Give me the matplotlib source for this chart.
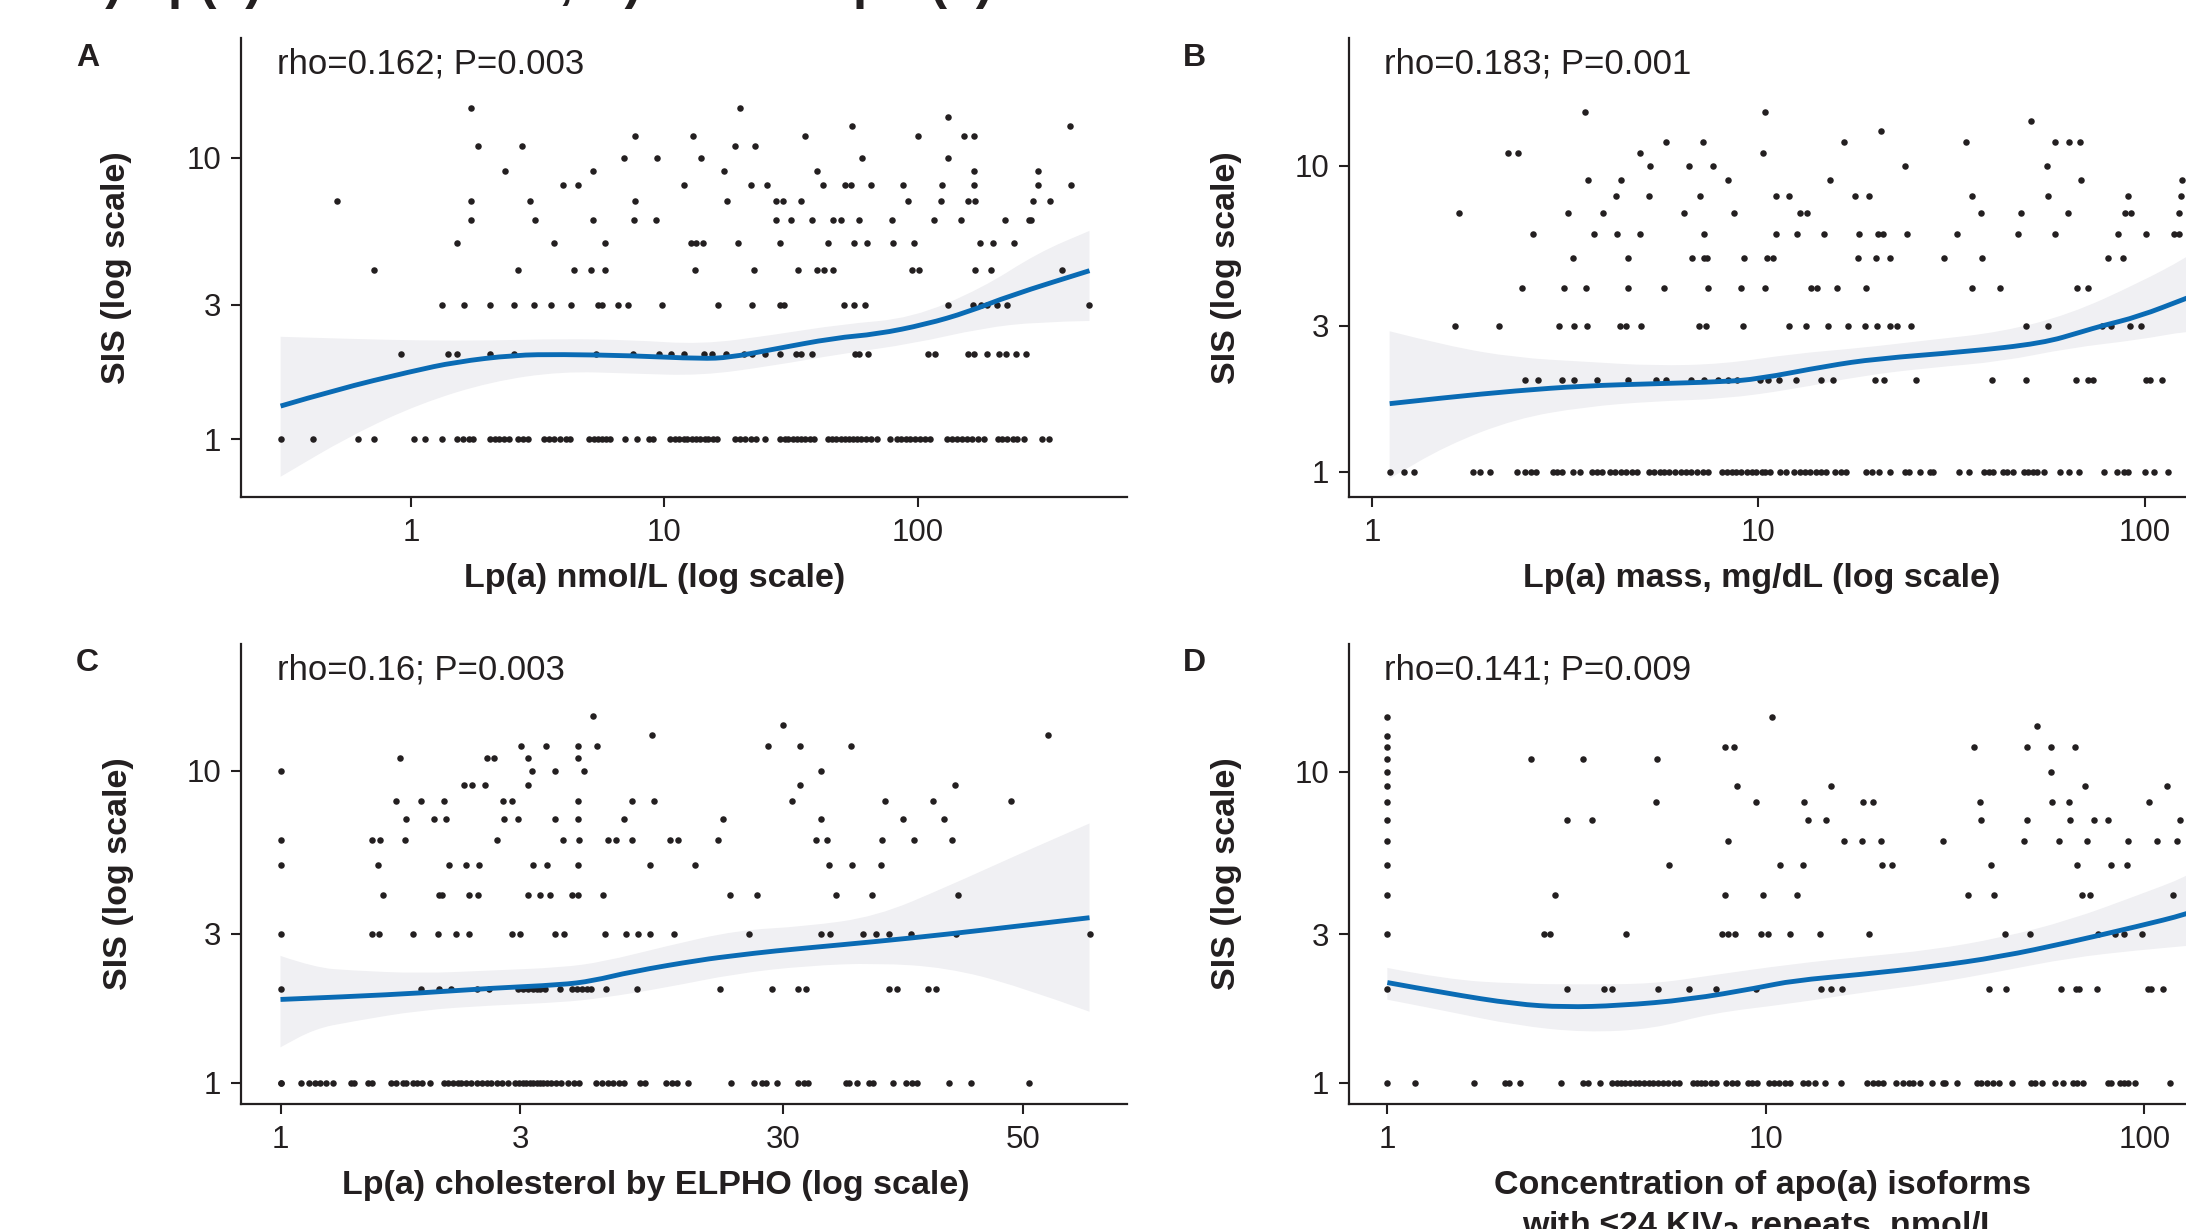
import matplotlib.pyplot as plt
from matplotlib.path import Path
from matplotlib.patches import PathPatch
from matplotlib.ticker import NullLocator

plt.rcParams['font.family'] = ['Liberation Sans', 'DejaVu Sans']

# ---- panel A: Lp(a) nmol/L ----
nmol_by_sis = {
    1: [0.305, 0.409, 0.616, 0.713, 1.03, 1.13, 1.32, 1.52, 1.60, 1.69, 1.75, 2.04, 2.14, 2.23,
        2.32, 2.43, 2.64, 2.76, 2.88, 3.36, 3.51, 3.67, 3.87, 4.07, 4.25, 5.05, 5.25, 5.46, 5.67,
        5.89, 6.12, 7.00, 7.80, 8.69, 9.03, 10.5, 11.0, 11.4, 11.9, 12.3, 12.8, 13.3, 13.8, 14.4,
        14.9, 15.5, 16.1, 19.0, 19.9, 20.8, 21.9, 23.1, 24.9, 28.6, 29.8, 30.9, 32.1, 33.4, 34.7,
        36.0, 37.5, 38.9, 44.2, 45.9, 47.7, 49.6, 51.5, 53.5, 55.6, 57.8, 60.0, 62.8, 65.6, 69.1,
        77.5, 82.6, 86.3, 89.7, 93.2, 97.5, 102, 107, 112, 131, 137, 143, 150, 156, 164, 173, 182,
        207, 216, 226, 237, 247, 264, 311, 330],
    2: [0.915, 1.40, 1.52, 2.04, 2.55, 5.35, 7.50, 9.50, 10.6, 11.9, 14.3, 15.4, 17.5, 20.6, 22.2,
        24.9, 28.5, 33.0, 34.7, 38.4, 56.7, 58.9, 63.6, 110, 117, 158, 167, 188, 210, 223, 244, 269],
    3: [1.32, 1.62, 2.04, 2.55, 3.05, 3.58, 4.28, 5.49, 5.67, 6.56, 7.18, 9.81, 16.3, 22.2, 28.6,
        29.6, 51.2, 56.3, 62.0, 132, 166, 178, 188, 206, 225, 477],
    4: [0.713, 2.64, 4.39, 5.15, 5.82, 13.2, 22.6, 33.8, 40.2, 42.5, 46.5, 95.0, 101, 168, 194, 372],
    5: [1.52, 3.67, 5.85, 12.7, 13.3, 14.2, 19.5, 28.6, 44.2, 56.3, 63.2, 80.0, 96.9, 176, 199, 241],
    6: [1.73, 3.07, 5.22, 7.55, 9.26, 27.7, 31.7, 38.2, 46.2, 49.9, 58.9, 79.0, 116, 148, 222, 276, 281],
    7: [0.508, 1.73, 2.94, 7.65, 17.6, 27.6, 29.4, 34.5, 91.4, 124, 158, 169, 285, 332],
    8: [3.97, 4.56, 11.9, 21.9, 25.4, 42.3, 51.5, 54.6, 65.2, 87.5, 125, 167, 299, 402],
    9: [2.34, 5.22, 17.2, 40.2, 167, 299],
    10: [6.91, 9.38, 14.0, 60.4, 132],
    11: [1.83, 2.74, 19.0, 22.8],
    12: [7.65, 13.0, 35.8, 100, 153, 167],
    13: [55.2, 399],
    14: [132],
    15: [1.73, 19.9],
}
nmol_fit_x = [0.305, 0.508, 1.0, 1.50, 2.55, 3.91, 7.41, 14.0, 18.1, 26.5, 47.1, 69.1, 108, 158, 232, 477]
nmol_fit_y = [1.31, 1.50, 1.74, 1.88, 1.99, 2.0, 1.98, 1.93, 1.95, 2.08, 2.29, 2.36, 2.56, 2.83, 3.24, 3.97]
nmol_band_x = [0.305, 0.578, 1.09, 2.07, 3.91, 7.41, 14.0, 26.5, 50.2, 95.0, 180, 299, 477]
nmol_band_lo = [0.734, 1.03, 1.34, 1.60, 1.74, 1.71, 1.68, 1.82, 2.01, 2.18, 2.48, 2.61, 2.63]
nmol_band_hi = [2.31, 2.27, 2.24, 2.24, 2.27, 2.25, 2.17, 2.34, 2.56, 2.69, 3.44, 4.60, 5.50]

# ---- panel B: Lp(a) mass mg/dL ----
mass_by_sis = {
    1: [1.11, 1.21, 1.28, 1.82, 1.90, 2.02, 2.37, 2.49, 2.58, 2.66, 2.94, 3.01, 3.11, 3.31, 3.45,
        3.70, 3.83, 3.94, 4.12, 4.26, 4.40, 4.55, 4.71, 4.84, 5.22, 5.37, 5.55, 5.71, 5.88, 6.08,
        6.29, 6.50, 6.71, 6.94, 7.17, 7.41, 8.05, 8.29, 8.53, 8.74, 9.04, 9.34, 9.62, 9.86, 10.2,
        10.4, 10.7, 11.4, 11.8, 12.4, 12.8, 13.2, 13.6, 14.1, 14.5, 15.0, 15.8, 16.4, 16.9, 19.0,
        19.7, 20.5, 21.9, 23.9, 24.6, 26.2, 27.8, 28.3, 33.1, 35.2, 38.4, 39.6, 40.4, 43.1, 44.1,
        45.5, 48.7, 50.0, 51.3, 52.6, 54.9, 60.3, 63.7, 67.6, 78.5, 84.8, 88.4, 90.7, 100, 106, 115],
    2: [2.49, 2.68, 3.11, 3.34, 3.83, 4.59, 5.44, 5.76, 6.68, 7.23, 7.85, 8.36, 8.82, 10.1, 10.6,
        11.3, 12.5, 14.5, 15.6, 20.0, 21.2, 25.6, 40.3, 49.2, 66.3, 71.5, 73.6, 101, 103, 111],
    3: [1.64, 2.13, 3.04, 3.34, 3.61, 4.37, 4.55, 4.97, 7.03, 7.32, 9.15, 12.0, 13.3, 15.1, 17.1,
        18.9, 20.3, 21.9, 22.9, 24.9, 49.2, 56.1, 77.4, 81.7, 91.6, 97.7],
    4: [2.45, 3.14, 3.58, 4.61, 5.71, 7.41, 9.04, 10.4, 13.7, 14.2, 16.0, 19.0, 35.7, 42.3, 66.8, 71.2],
    5: [3.31, 4.61, 6.74, 7.23, 7.34, 9.19, 10.5, 10.9, 18.1, 20.2, 21.9, 30.2, 37.9, 80.5, 88.1],
    6: [2.61, 3.75, 4.31, 4.95, 7.23, 11.1, 12.6, 14.8, 18.2, 20.4, 21.0, 24.2, 32.6, 47.1, 58.7,
        85.5, 101, 119, 123],
    7: [1.68, 3.22, 3.96, 6.41, 8.64, 12.8, 13.4, 37.6, 48.0, 63.3, 89.0, 92.2, 123],
    8: [4.28, 5.22, 7.08, 11.1, 12.0, 17.8, 19.3, 35.7, 56.2, 90.4, 124],
    9: [3.63, 4.40, 8.32, 15.3, 68.3, 125],
    10: [5.24, 6.60, 7.63, 23.9, 55.9],
    11: [2.25, 2.38, 4.95, 10.3],
    12: [5.78, 7.17, 16.7, 34.5, 58.5, 63.8, 68.0],
    13: [20.8],
    14: [50.9],
    15: [3.55, 10.4],
}
mass_fit_x = [1.11, 1.56, 2.35, 3.55, 5.37, 8.12, 9.98, 15.1, 20.1, 34.5, 54.3, 69.5, 76.7, 96.8, 128, 160]
mass_fit_y = [1.67, 1.75, 1.84, 1.91, 1.94, 1.97, 2.01, 2.22, 2.34, 2.47, 2.63, 2.88, 2.99, 3.22, 3.69, 4.1]
mass_band_x = [1.11, 1.56, 2.35, 3.55, 5.37, 8.12, 12.3, 18.5, 28.0, 42.4, 64.0, 96.8, 128, 160]
mass_band_lo = [0.95, 1.22, 1.49, 1.63, 1.70, 1.73, 1.86, 2.06, 2.19, 2.29, 2.54, 2.70, 2.88, 2.95]
mass_band_hi = [2.88, 2.58, 2.36, 2.29, 2.22, 2.25, 2.43, 2.54, 2.70, 2.86, 3.27, 4.15, 5.0, 6.0]

# ---- panel C: Lp(a) cholesterol by ELPHO ----
elpho_by_sis = {
    1: [1.0, 1.0, 1.10, 1.14, 1.17, 1.20, 1.23, 1.27, 1.38, 1.40, 1.49, 1.52, 1.66, 1.70, 1.75,
        1.78, 1.83, 1.87, 1.91, 1.98, 2.11, 2.15, 2.20, 2.25, 2.29, 2.34, 2.39, 2.46, 2.51, 2.57,
        2.62, 2.69, 2.76, 2.83, 2.93, 2.98, 3.03, 3.08, 3.13, 3.18, 3.23, 3.28, 3.33, 3.39, 3.45,
        3.53, 3.61, 3.73, 3.83, 3.93, 4.24, 4.35, 4.47, 4.58, 4.70, 4.82, 5.18, 5.31, 5.85, 6.00,
        6.14, 6.46, 7.86, 8.74, 9.05, 9.23, 9.71, 10.7, 11.0, 11.2, 13.3, 13.5, 14.0, 14.8, 15.1,
        16.5, 17.5, 18.0, 18.4, 21.3, 23.6, 30.8],
    2: [1.0, 1.90, 2.07, 2.18, 2.46, 2.60, 2.96, 3.03, 3.10, 3.18, 3.23, 3.28, 3.36, 3.60, 3.79,
        3.88, 3.97, 4.06, 4.15, 4.44, 5.11, 7.49, 9.47, 10.7, 11.1, 16.2, 16.8, 19.4, 20.1],
    3: [1.0, 1.52, 1.57, 1.83, 2.06, 2.23, 2.37, 2.89, 3.0, 3.51, 3.66, 4.41, 4.87, 5.14, 5.42,
        6.06, 8.55, 11.9, 12.4, 14.4, 15.3, 16.2, 17.9, 22.0, 40.6],
    4: [1.60, 2.07, 2.09, 2.37, 2.47, 3.11, 3.28, 3.43, 3.79, 3.90, 4.37, 7.83, 8.85, 12.7, 15.0, 22.2],
    5: [1.0, 1.56, 2.16, 2.34, 2.48, 3.17, 3.39, 3.90, 5.43, 6.67, 12.3, 13.7, 15.6],
    6: [1.0, 1.52, 1.58, 1.77, 2.69, 3.65, 3.92, 4.47, 4.64, 5.00, 5.94, 6.16, 7.42, 11.6, 12.2,
        15.7, 18.2, 21.6],
    7: [1.78, 2.02, 2.13, 2.78, 2.97, 3.52, 3.90, 4.81, 7.59, 11.9, 17.3, 20.9],
    8: [1.70, 1.90, 2.11, 2.77, 2.89, 3.90, 5.00, 5.52, 10.4, 15.9, 19.8, 28.3],
    9: [2.32, 2.40, 2.55, 3.10, 10.8, 21.9],
    10: [1.0, 3.16, 3.51, 4.02, 11.9],
    11: [1.73, 2.57, 2.66, 3.10, 3.90],
    12: [3.01, 3.37, 3.90, 4.26, 9.32, 10.8, 13.6],
    13: [5.47, 33.6],
    14: [10.0],
    15: [4.18],
}
elpho_fit_x = [1.0, 1.38, 1.90, 2.62, 3.61, 4.17, 4.98, 6.87, 8.07, 9.47, 13.1, 18.0, 24.8, 40.6]
elpho_fit_y = [1.85, 1.89, 1.94, 2.01, 2.06, 2.12, 2.27, 2.48, 2.56, 2.64, 2.77, 2.91, 3.08, 3.38]
elpho_band_x = [1.0, 1.17, 1.38, 1.90, 2.62, 3.61, 4.38, 5.85, 8.07, 11.1, 15.3, 21.1, 29.1, 40.6]
elpho_band_lo = [1.30, 1.49, 1.57, 1.71, 1.77, 1.81, 1.87, 2.02, 2.24, 2.37, 2.42, 2.34, 2.05, 1.69]
elpho_band_hi = [2.55, 2.34, 2.29, 2.24, 2.29, 2.34, 2.44, 2.74, 3.08, 3.17, 3.41, 4.24, 5.36, 6.77]

# ---- panel D: apo(a) isoforms with <=24 KIV2 repeats ----
iso_by_sis = {
    1: [1.0, 1.18, 1.69, 2.04, 2.09, 2.24, 2.87, 3.28, 3.39, 3.65, 3.93, 4.05, 4.14, 4.24, 4.37,
        4.50, 4.61, 4.75, 4.90, 5.04, 5.19, 5.35, 5.51, 5.70, 5.89, 6.41, 6.58, 6.75, 6.92, 7.16,
        7.40, 7.85, 8.12, 8.40, 8.95, 9.21, 9.45, 10.2, 10.5, 10.8, 11.2, 11.6, 12.5, 12.9, 13.5,
        14.3, 15.8, 18.5, 19.2, 19.8, 20.4, 22.0, 23.0, 23.9, 24.4, 25.6, 27.5, 29.3, 29.7, 32.0,
        36.0, 37.1, 38.3, 39.9, 41.3, 44.7, 50.1, 51.3, 53.5, 58.0, 61.0, 64.8, 66.2, 68.9, 79.9,
        81.5, 86.1, 88.3, 90.6, 94.4, 117],
    2: [1.0, 2.99, 3.74, 3.93, 5.19, 6.25, 7.37, 9.41, 14.0, 14.9, 15.9, 38.8, 43.0, 60.3, 65.8,
        67.1, 74.7, 102, 104, 112],
    3: [1.0, 2.59, 2.69, 4.28, 7.65, 7.92, 8.29, 9.73, 10.1, 11.6, 13.9, 18.7, 42.9, 49.9, 75.2,
        83.5, 88.3, 98.6],
    4: [1.0, 2.77, 7.78, 9.81, 12.1, 34.1, 40.1, 68.3, 71.7, 119],
    5: [1.0, 5.56, 10.9, 12.5, 20.3, 21.5, 39.2, 66.2, 81.7, 89.7],
    6: [1.0, 7.95, 16.1, 17.9, 20.1, 29.4, 48.1, 59.5, 70.3, 90.2, 108, 122],
    7: [1.0, 2.99, 3.47, 12.9, 14.4, 37.0, 49.0, 63.6, 73.5, 80.2, 124],
    8: [1.0, 5.11, 9.41, 12.6, 18.0, 19.2, 36.8, 56.9, 63.1, 103],
    9: [1.0, 8.40, 14.9, 69.6, 115],
    10: [1.0, 56.8],
    11: [1.0, 2.39, 3.28, 5.17],
    12: [1.0, 7.82, 8.22, 35.5, 48.8, 56.8, 65.4],
    13: [1.0],
    14: [52.1],
    15: [1.0, 10.4],
}
iso_fit_x = [1.0, 1.43, 2.18, 2.93, 4.10, 6.25, 9.53, 11.8, 17.9, 27.3, 41.6, 63.4, 96.7, 129, 170]
iso_fit_y = [2.10, 1.94, 1.79, 1.75, 1.77, 1.85, 2.02, 2.13, 2.23, 2.36, 2.54, 2.83, 3.19, 3.48, 3.9]
iso_band_x = [1.0, 1.43, 2.18, 3.32, 5.06, 7.09, 11.8, 17.9, 27.3, 41.6, 63.4, 96.7, 129, 170]
iso_band_lo = [1.85, 1.70, 1.53, 1.45, 1.49, 1.67, 1.80, 1.95, 2.08, 2.28, 2.52, 2.67, 2.75, 2.85]
iso_band_hi = [2.34, 2.15, 2.08, 2.07, 2.08, 2.21, 2.41, 2.54, 2.67, 2.92, 3.33, 4.02, 4.59, 5.5]

sis_ticks = [1, 3, 10]
ink = '#231f20'
blue = '#0a6bb4'
band_grey = '#f0f0f3'

W, H = 2186, 1229
fig = plt.figure(figsize=(W / 100, H / 100), dpi=100)


def px_box(left, top, right, bottom):
    return [left / W, 1 - bottom / H, (right - left) / W, (bottom - top) / H]


def ftext(x, y, s, **kw):
    return fig.text(x / W, 1 - y / H, s, color=ink, **kw)


def rounded(xs, ys):
    # quadratic bezier through the read values, corners rounded at geometric midpoints
    verts = [(xs[0], ys[0])]
    codes = [Path.MOVETO]
    for i in range(1, len(xs) - 1):
        verts += [(xs[i], ys[i]), ((xs[i] * xs[i + 1]) ** 0.5, (ys[i] * ys[i + 1]) ** 0.5)]
        codes += [Path.CURVE3, Path.CURVE3]
    verts.append((xs[-1], ys[-1]))
    codes.append(Path.LINETO)
    return verts, codes


def panel(box, by_sis, fit_x, fit_y, band_x, band_lo, band_hi, xlim, ylim, xticks, xlabels):
    ax = fig.add_axes(box)
    ax.set_xscale('log')
    ax.set_yscale('log')
    ax.set_xlim(*xlim)
    ax.set_ylim(*ylim)

    top_v, top_c = rounded(band_x, band_hi)
    low_v, low_c = rounded(band_x[::-1], band_lo[::-1])
    low_c[0] = Path.LINETO
    band = Path(top_v + low_v + [top_v[0]], top_c + low_c + [Path.CLOSEPOLY])
    ax.add_patch(PathPatch(band, facecolor=band_grey, edgecolor='none', zorder=1))

    for sis, xs in by_sis.items():
        ax.scatter(xs, [sis] * len(xs), s=22, color=ink, lw=0, zorder=2)

    fit_v, fit_c = rounded(fit_x, fit_y)
    ax.add_patch(PathPatch(Path(fit_v, fit_c), facecolor='none', edgecolor=blue, lw=3.5,
                           capstyle='butt', joinstyle='round', zorder=3))

    ax.set_xticks(xticks)
    ax.set_xticklabels(xlabels)
    ax.set_yticks(sis_ticks)
    ax.set_yticklabels([str(t) for t in sis_ticks])
    ax.xaxis.set_minor_locator(NullLocator())
    ax.yaxis.set_minor_locator(NullLocator())
    for side in ('top', 'right'):
        ax.spines[side].set_visible(False)
    for side in ('left', 'bottom'):
        ax.spines[side].set_linewidth(1.6)
        ax.spines[side].set_color(ink)
    ax.tick_params(length=7.2, width=1.5, color=ink, labelcolor=ink, labelsize=22.5)
    ax.tick_params(axis='x', pad=8)
    ax.tick_params(axis='y', pad=7)
    ax.patch.set_alpha(0)
    return ax


panel(px_box(240.6, 38, 1127, 497), nmol_by_sis, nmol_fit_x, nmol_fit_y,
      nmol_band_x, nmol_band_lo, nmol_band_hi, (0.212, 671), (0.622, 26.7),
      [1, 10, 100], ['1', '10', '100'])
panel(px_box(1348.6, 38, 2234.6, 497), mass_by_sis, mass_fit_x, mass_fit_y,
      mass_band_x, mass_band_lo, mass_band_hi, (0.869, 171), (0.827, 26.2),
      [1, 10, 100], ['1', '10', '100'])
panel(px_box(240.6, 643.6, 1127, 1104.3), elpho_by_sis, elpho_fit_x, elpho_fit_y,
      elpho_band_x, elpho_band_lo, elpho_band_hi, (0.833, 48.2), (0.854, 25.5),
      [1, 3, 10, 30], ['1', '3', '30', '50'])
panel(px_box(1348.6, 643.6, 2234.6, 1104.3), iso_by_sis, iso_fit_x, iso_fit_y,
      iso_band_x, iso_band_lo, iso_band_hi, (0.790, 173), (0.853, 25.8),
      [1, 10, 100], ['1', '10', '100'])

# panel letters and correlation notes
for x, y, letter in [(76, 66, 'A'), (1183, 66, 'B'), (76, 671, 'C'), (1183, 671, 'D')]:
    ftext(x, y, letter, fontsize=23, fontweight='bold', va='baseline')
for x, y, note in [(277, 73, 'rho=0.162; P=0.003'), (1384, 73, 'rho=0.183; P=0.001'),
                   (277, 679, 'rho=0.16; P=0.003'), (1384, 679, 'rho=0.141; P=0.009')]:
    ftext(x, y, note, fontsize=25, va='baseline')

# axis titles
for x, y in [(117, 267.5), (1227, 267.5), (118, 874), (1227, 874)]:
    ftext(x, y, 'SIS (log scale)', fontsize=24.5, fontweight='bold', rotation=90,
          ha='center', va='center')
ftext(655, 587, 'Lp(a) nmol/L (log scale)', fontsize=24.5, fontweight='bold',
      ha='center', va='baseline')
ftext(1762, 587, 'Lp(a) mass, mg/dL (log scale)', fontsize=24.5, fontweight='bold',
      ha='center', va='baseline')
ftext(656, 1194, 'Lp(a) cholesterol by ELPHO (log scale)', fontsize=24.5, fontweight='bold',
      ha='center', va='baseline')
ftext(1762, 1194, 'Concentration of apo(a) isoforms', fontsize=24.5, fontweight='bold',
      ha='center', va='baseline')
ftext(1762, 1235, 'with ≤24 KIV$_\\mathbf{2}$ repeats, nmol/L', fontsize=24.5, fontweight='bold',
      ha='center', va='baseline')

# figure heading sits just above the top edge
ftext(68, -2, 'A) Lp(a) level vs SIS, B) SIS vs apo (a)', fontsize=37, fontweight='bold',
      va='baseline')

fig.savefig('out.png', dpi=100)
